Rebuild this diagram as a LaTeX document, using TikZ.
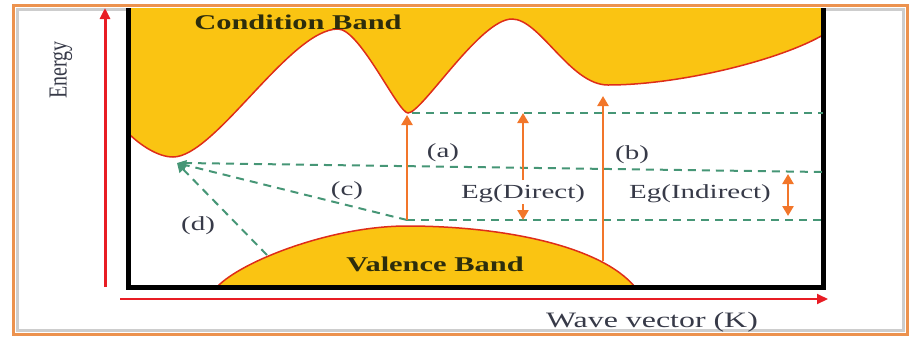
\documentclass[tikz,border=0pt]{standalone}
\usepackage{fontspec}
\usepackage{graphicx}
\setmainfont{Liberation Serif}
\usetikzlibrary{arrows.meta}
\definecolor{bandyellow}{RGB}{250,196,18}
\definecolor{bandred}{RGB}{222,45,25}
\definecolor{arroworange}{RGB}{242,118,42}
\definecolor{dashgreen}{RGB}{70,150,118}
\definecolor{axisred}{RGB}{232,28,36}
\definecolor{frameorange}{RGB}{236,146,78}
\definecolor{shadowgray}{RGB}{205,205,205}
\definecolor{labelgray}{RGB}{55,58,72}
\definecolor{bandtext}{RGB}{45,45,12}
\newcommand{\hstretch}[1]{\scalebox{1.45}[1]{#1}}
\begin{document}
\begin{tikzpicture}[x=1pt,y=-1pt,
  lbl/.style={text=labelgray, font=\fontsize{20}{24}\selectfont, inner sep=1pt},
  bandlbl/.style={text=bandtext, font=\fontsize{21}{25}\selectfont\bfseries, inner sep=1pt},
  gdash/.style={dashgreen, line width=2pt, dash pattern=on 8pt off 6pt},
  garrow/.style={gdash, -{Triangle[length=9pt,width=10pt,sep=0pt]}},
  oarrow/.style={arroworange, line width=2.5pt, -{Triangle[length=10pt,width=11pt]}},
  axisarrow/.style={axisred, -{Triangle[length=11pt,width=10pt]}},
  boxline/.style={black, line width=5pt},
  bandline/.style={bandred, line width=1.5pt}]
\useasboundingbox (0,0) rectangle (910,338);
% frame
\draw[shadowgray, line width=3pt] (17,9) rectangle (903,330);
\draw[frameorange, line width=3pt] (13,5) rectangle (907,334);
% conduction band
\coordinate (c0) at (128,133);
\coordinate (c1) at (173,157);
\coordinate (c2) at (338,29);
\coordinate (c3) at (408,113);
\coordinate (c4) at (512,19);
\coordinate (c5) at (608,85);
\coordinate (c6) at (823,35);
\fill[bandyellow] (128,8) -- (c0) .. controls (140,145) and (158,157) .. (c1)
  .. controls (215,157) and (290,29) .. (c2)
  .. controls (360,29) and (398,113) .. (c3)
  .. controls (422,113) and (480,19) .. (c4)
  .. controls (540,19) and (570,85) .. (c5)
  .. controls (680,85) and (780,60) .. (c6) -- (823,8) -- cycle;
\draw[bandline] (c0) .. controls (140,145) and (158,157) .. (c1)
  .. controls (215,157) and (290,29) .. (c2)
  .. controls (360,29) and (398,113) .. (c3)
  .. controls (422,113) and (480,19) .. (c4)
  .. controls (540,19) and (570,85) .. (c5)
  .. controls (680,85) and (780,60) .. (c6);
% valence band
\coordinate (v0) at (217,287);
\coordinate (vtop) at (407,226);
\coordinate (v2) at (635,287);
\fill[bandyellow] (v0) .. controls (240,262) and (330,226) .. (vtop)
  .. controls (500,226) and (600,245) .. (v2) -- cycle;
\draw[bandline] (v0) .. controls (240,262) and (330,226) .. (vtop)
  .. controls (500,226) and (600,245) .. (v2);
% black box
\draw[boxline] (128,8) -- (128,287) -- (823,287) -- (823,8);
% axes
\coordinate (ybot) at (105,287);
\coordinate (ytop) at (105,8);
\coordinate (xleft) at (120,299);
\coordinate (xright) at (828,299);
\draw[axisarrow, line width=3pt] (ybot) -- (ytop);
\draw[axisarrow, line width=2pt] (xleft) -- (xright);
% key points
\coordinate (cmin) at (177,163);
\coordinate (hstart) at (184,163);
\coordinate (hend) at (823,172);
\coordinate (amin) at (412,113);
\coordinate (aend) at (823,113);
\coordinate (vg) at (407,220);
\coordinate (vend) at (823,220);
\coordinate (dstart) at (267,255);
% dashed lines
\draw[gdash] (amin) -- (aend);
\draw[gdash] (hstart) -- (hend);
\draw[gdash] (vg) -- (vend);
\draw[garrow] (vg) -- (cmin);
\draw[garrow] (dstart) -- (cmin);
% orange arrows
\coordinate (atip) at (407,115);
\coordinate (bbot) at (603,261);
\coordinate (btip) at (603,96);
\coordinate (dtop) at (523,113);
\coordinate (dupstart) at (523,180);
\coordinate (ddownstart) at (523,204);
\coordinate (dbot) at (523,220);
\coordinate (itop) at (788,174);
\coordinate (ibot) at (788,216);
\draw[oarrow] (vg) -- (atip);
\draw[oarrow] (bbot) -- (btip);
\draw[oarrow] (dupstart) -- (dtop);
\draw[oarrow] (ddownstart) -- (dbot);
\draw[oarrow, {Triangle[length=10pt,width=11pt]}-{Triangle[length=10pt,width=11pt]}] (itop) -- (ibot);
% texts
\node[bandlbl] (cband) at (298,22) {\hstretch{Condition Band}};
\node[bandlbl] (vband) at (435,264) {\hstretch{Valence Band}};
\node[lbl] (la) at (443,153) {\hstretch{(a)}};
\node[lbl] (lb) at (632,155) {\hstretch{(b)}};
\node[lbl] (lc) at (347,191) {\hstretch{(c)}};
\node[lbl] (ld) at (198,226) {\hstretch{(d)}};
\node[lbl] (egd) at (523,194) {\hstretch{Eg(Direct)}};
\node[lbl] (egi) at (700,194) {\hstretch{Eg(Indirect)}};
\node[lbl, font=\fontsize{22}{26}\selectfont] (wv) at (652,322) {\hstretch{Wave vector (K)}};
\node[lbl, rotate=90] (energy) at (61,70) {\scalebox{1}[1.3]{Energy}};
\end{tikzpicture}
\end{document}
